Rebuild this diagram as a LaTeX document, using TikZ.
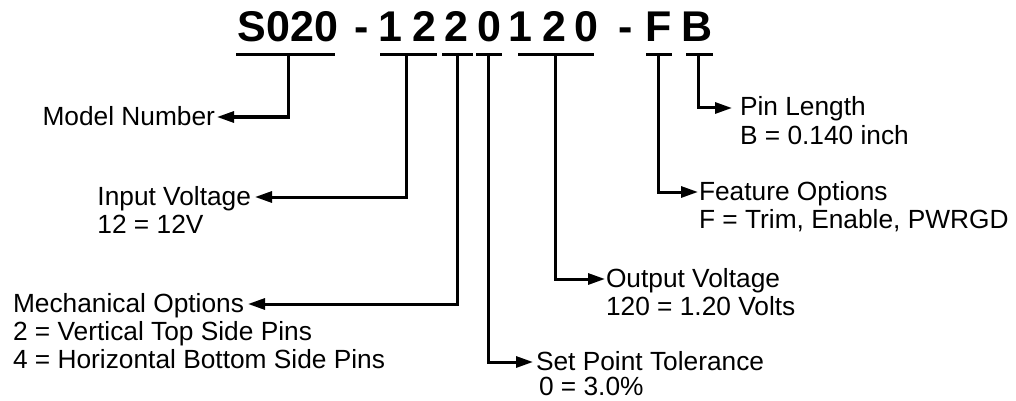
\documentclass[tikz,border=0pt]{standalone}
\usepackage{fontspec}
\setmainfont{Liberation Sans}
\usetikzlibrary{arrows.meta,calc}
\newcommand\labfont{\fontsize{26.3}{28}\selectfont}
\newcommand\titfont{\fontsize{43}{46}\selectfont\bfseries}
\begin{document}
\begin{tikzpicture}[x=1pt,y=-1pt,
  conn/.style={line width=3pt, line join=miter, -{Triangle[length=17pt,width=11pt]}},
  bar/.style={line width=3pt},
  tit/.style={font=\titfont, inner sep=0pt, anchor=base},
  lab/.style={font=\labfont, inner ysep=0pt, outer sep=0pt, text height=16pt, text depth=0pt},
  val/.style={font=\labfont, inner sep=0pt, outer sep=0pt, anchor=base west}]
\useasboundingbox (0,0) rectangle (1016,401);

% title characters
\node[tit] (tS) at (288,42) {S020};
\node[tit] (th1) at (362,42) {-};
\node[tit] (t1) at (390,42) {1};
\node[tit] (t2) at (424.5,42) {2};
\node[tit] (t3) at (456.5,42) {2};
\node[tit] (t4) at (489,42) {0};
\node[tit] (t5) at (520,42) {1};
\node[tit] (t6) at (554.5,42) {2};
\node[tit] (t7) at (586.5,42) {0};
\node[tit] (th2) at (626,42) {-};
\node[tit] (tF) at (659,42) {F};
\node[tit] (tB) at (697.5,42) {B};

% underline bars
\draw[bar] (236,55) -- (335,55);
\draw[bar] (380,55) -- (437,55);
\draw[bar] (442,55) -- (473,55);
\draw[bar] (476,55) -- (502,55);
\draw[bar] (518,55) -- (594,55);
\draw[bar] (646,55) -- (672,55);
\draw[bar] (686,55) -- (713,55);

% stem start points
\coordinate (sS) at (288,55);
\coordinate (s12) at (406,55);
\coordinate (s2) at (457,55);
\coordinate (s0) at (488,55);
\coordinate (s120) at (555,55);
\coordinate (sF) at (658,55);
\coordinate (sB) at (698,55);

% left labels
\node[lab, anchor=east, inner xsep=2pt] (model) at (217,117) {Model Number};
\node[lab, anchor=east, inner xsep=4pt] (input) at (255,197) {Input Voltage};
\node[val] (inputv) at ($(input.base west)+(4,28)$) {12 = 12V};
\node[lab, anchor=east, inner xsep=4pt] (mech) at (248,304) {Mechanical Options};
\node[val] (mechv1) at ($(mech.base west)+(4,28)$) {2 = Vertical Top Side Pins};
\node[val] (mechv2) at ($(mech.base west)+(4,56)$) {4 = Horizontal Bottom Side Pins};

% right labels
\node[lab, anchor=west, inner xsep=3pt] (setpt) at (533,362) {Set Point Tolerance};
\node[val] (setptv) at ($(setpt.base west)+(6,25)$) {0 = 3.0\%};
\node[lab, anchor=west, inner xsep=1pt] (outv) at (605,279) {Output Voltage};
\node[val] (outvv) at ($(outv.base west)+(1,28)$) {120 = 1.20 Volts};
\node[lab, anchor=west, inner xsep=1pt] (feat) at (698,192) {Feature Options};
\node[val] (featv) at ($(feat.base west)+(1,28)$) {F = Trim, Enable, PWRGD};
\node[lab, anchor=west, inner xsep=8pt] (pin) at (732,108) {Pin Length};
\node[val] (pinv) at ($(pin.base west)+(8,28)$) {B = 0.140 inch};

% connectors
\draw[conn] (sS) |- (model.east);
\draw[conn] (s12) |- (input.east);
\draw[conn] (s2) |- (mech.east);
\draw[conn] (s0) |- (setpt.west);
\draw[conn] (s120) |- (outv.west);
\draw[conn] (sF) |- (feat.west);
\draw[conn] (sB) |- (pin.west);
\end{tikzpicture}
\end{document}
